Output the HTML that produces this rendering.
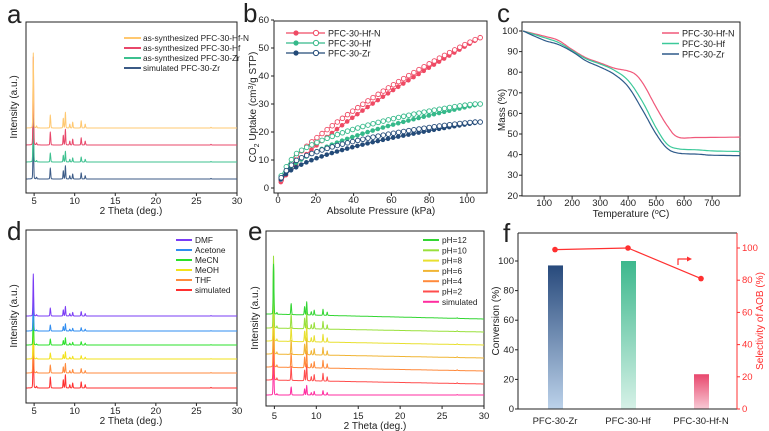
<!DOCTYPE html>
<html><head><meta charset="utf-8"><style>
html,body{margin:0;padding:0;background:#fff;}
svg{display:block;font-family:"Liberation Sans",Arial,sans-serif;}
</style></head><body>
<svg id="s" width="769" height="431" viewBox="0 0 769 431" xmlns="http://www.w3.org/2000/svg">
<defs>
<linearGradient id="gz" x1="0" y1="0" x2="0" y2="1"><stop offset="0" stop-color="#284a7c"/><stop offset="1" stop-color="#bcd2ea"/></linearGradient>
<linearGradient id="gh" x1="0" y1="0" x2="0" y2="1"><stop offset="0" stop-color="#3db88d"/><stop offset="1" stop-color="#d6f1e7"/></linearGradient>
<linearGradient id="gn" x1="0" y1="0" x2="0" y2="1"><stop offset="0" stop-color="#e8476d"/><stop offset="1" stop-color="#f8cad6"/></linearGradient>
</defs>
</svg>
<script>
var S=document.getElementById('s'),NS='http://www.w3.org/2000/svg';
function el(n,a,t){var e=document.createElementNS(NS,n);for(var k in a)e.setAttribute(k,a[k]);if(t!=null)e.textContent=t;S.appendChild(e);return e;}
function ln(x1,y1,x2,y2,c,w){el('line',{x1:x1,y1:y1,x2:x2,y2:y2,stroke:c||'#222','stroke-width':w||1});}
function tx(x,y,s,o){o=o||{};var a={x:x,y:y,'font-size':o.fs||9,fill:o.c||'#222','text-anchor':o.a||'middle'};if(o.r)a.transform='rotate(-90 '+x+' '+y+')';return el('text',a,s);}
function box(L,T,R,B){el('rect',{x:L,y:T,width:R-L,height:B-T,fill:'none',stroke:'#222','stroke-width':1});}
function pl(pts,c,w){el('polyline',{points:pts.map(function(p){return p[0].toFixed(1)+','+p[1].toFixed(1)}).join(' '),fill:'none',stroke:c,'stroke-width':w||1.2,'stroke-linejoin':'round'});}

// XRD
var PK=[[4.9,1],[5.3,0.03],[7.0,0.2],[8.6,0.15],[8.85,0.24],[9.4,0.06],[9.75,0.09],[10.8,0.11],[11.3,0.06],[26.8,0.01]];
function xrd(L,R,T,B,series){
  box(L,T,R,B);
  var X=function(t){return L+(t-4)*(R-L)/26;};
  [5,10,15,20,25,30].forEach(function(t){ln(X(t),B,X(t),B+3);});
  series.forEach(function(s){
    var pts=[];
    for(var t=4.05;t<=30;t+=0.025){
      var y=0;PK.forEach(function(p){var w=0.05;var h=p[0]==4.9?s.h:p[1]*s.h2;var d=(t-p[0])/w;y+=h*Math.exp(-d*d*0.7)*0.85+h*0.15/(1+d*d);});
      pts.push([X(t),s.b+(s.sl||0)*(t-4)/26-y]);
    }
    pl(pts,s.c,1);
  });
  return X;
}
// panel a
var Xa=xrd(26,237,22,193,[
 {b:179,h:55,h2:55,c:'#3b5a86'},
 {b:162,h:70,h2:45,c:'#3cc08f'},
 {b:145,h:88,h2:65,c:'#e8476a'},
 {b:128,h:75,h2:65,c:'#ffc870'}]);
[5,10,15,20,25,30].forEach(function(t){tx(Xa(t),204,t,{fs:9.5});});
tx(131,214,'2 Theta (deg.)',{fs:10});
tx(17,107,'Intensity (a.u.)',{fs:10,r:1});
tx(7,23,'a',{fs:26,a:'start'});
[['as-synthesized PFC-30-Hf-N','#ffc870'],['as-synthesized PFC-30-Hf','#e8476a'],['as-synthesized PFC-30-Zr','#3cc08f'],['simulated PFC-30-Zr','#3b5a86']].forEach(function(l,i){var y=38+i*10;ln(124,y,141,y,l[1],2);tx(143,y+3,l[0],{fs:8.3,a:'start'});});

// panel d
var Xd=xrd(26,237,230,403,[
 {b:388,h:55,h2:55,c:'#ff2f2f'},
 {b:373,h:50,h2:40,c:'#ff8a3c'},
 {b:359,h:42,h2:30,c:'#f2e21a'},
 {b:345,h:42,h2:30,c:'#2be02b'},
 {b:331,h:42,h2:30,c:'#2f8cf0'},
 {b:316,h:42,h2:40,c:'#7a3cf5'}]);
[5,10,15,20,25,30].forEach(function(t){tx(Xd(t),414,t,{fs:9.5});});
tx(131,424,'2 Theta (deg.)',{fs:10});
tx(17,316,'Intensity (a.u.)',{fs:10,r:1});
tx(7,240,'d',{fs:26,a:'start'});
[['DMF','#7a3cf5'],['Acetone','#2f8cf0'],['MeCN','#2be02b'],['MeOH','#f2e21a'],['THF','#ff8a3c'],['simulated','#ff2f2f']].forEach(function(l,i){var y=240+i*10;ln(176,y,192,y,l[1],2);tx(195,y+3,l[0],{fs:8.3,a:'start'});});

// panel e
var Xe=xrd(266,484,231,406,[
 {b:395,h:45,h2:40,c:'#ff2da0'},
 {b:380,h:75,h2:70,c:'#ff4d4d',sl:4},
 {b:367,h:75,h2:70,c:'#ff8a3c',sl:4},
 {b:354,h:75,h2:70,c:'#f0b535',sl:4},
 {b:341,h:75,h2:70,c:'#e8e030',sl:4},
 {b:328,h:72,h2:70,c:'#99e03c',sl:4},
 {b:314,h:50,h2:55,c:'#33d633',sl:5}]);
[5,10,15,20,25,30].forEach(function(t){tx(Xe(t),419,t,{fs:9.5});});
tx(375,429,'2 Theta (deg.)',{fs:10});
tx(258,318,'Intensity (a.u.)',{fs:10,r:1});
tx(248,240,'e',{fs:26,a:'start'});
[['pH=12','#33d633'],['pH=10','#99e03c'],['pH=8','#e8e030'],['pH=6','#f0b535'],['pH=4','#ff8a3c'],['pH=2','#ff4d4d'],['simulated','#ff2da0']].forEach(function(l,i){var y=240+i*10.3;ln(423,y,439,y,l[1],2);tx(442,y+3,l[0],{fs:8.3,a:'start'});});

// panel b
(function(){
 var L=274,R=487,T=21,B=193;box(L,T,R,B);
 var X=function(p){return 278+p*1.89;},Y=function(v){return 188-v*2.8;};
 [0,20,40,60,80,100].forEach(function(p){ln(X(p),B,X(p),B+3);tx(X(p),203,p,{fs:9.5});});
 [0,10,20,30,40,50,60].forEach(function(v){ln(L-3,Y(v),L,Y(v));tx(L-5,Y(v)+3,v,{fs:9.5,a:'end'});});
 tx(381,214,'Absolute Pressure (kPa)',{fs:10});
 var t=tx(256,107,'',{fs:10,r:1});
 t.innerHTML='CO<tspan font-size="7" dy="3">2</tspan><tspan dy="-3"> Uptake (cm</tspan><tspan font-size="7" dy="-3">3</tspan><tspan dy="3">/g STP)</tspan>';
 tx(243,22,'b',{fs:26,a:'start'});
 var S3=[['#ef4a64',1.54,0.76,3.0],['#35b98a',2.9,0.5,3.5],['#234a78',2.5,0.48,2.6]];
 S3.forEach(function(s){
  var ad=[],de=[];
  for(var p=1.5;p<=107;p+=2.7){ad.push([X(p),Y(s[1]*Math.pow(p,s[2]))]);}
  for(var p=107;p>=1.5;p-=2.7){var v=s[1]*Math.pow(p,s[2])+s[3]*Math.pow(Math.max(0,1-p/107),0.6)*Math.min(1,p/10);de.push([X(p),Y(v)]);}
  pl(ad,s[0],1);pl(de,s[0],1);
  ad.forEach(function(q){el('circle',{cx:q[0],cy:q[1],r:2.3,fill:s[0]});});
  de.forEach(function(q){el('circle',{cx:q[0],cy:q[1],r:2.3,fill:'#fff',stroke:s[0],'stroke-width':0.9});});
 });
 [['PFC-30-Hf-N','#ef4a64'],['PFC-30-Hf','#35b98a'],['PFC-30-Zr','#234a78']].forEach(function(l,i){var y=33+i*10;ln(286,y,325,y,l[1],1.2);el('circle',{cx:296,cy:y,r:2.6,fill:l[1]});el('circle',{cx:316,cy:y,r:2.6,fill:'#fff',stroke:l[1]});tx(328,y+3.5,l[0],{fs:9,a:'start'});});
})();

// panel c
(function(){
 var L=522,R=740,T=22,B=196;box(L,T,R,B);
 var X=function(t){return 522+(t-21)*0.28;},Y=function(m){return 31+(100-m)*2.06;};
 [100,200,300,400,500,600,700].forEach(function(t){ln(X(t),B,X(t),B+3);tx(X(t),206,t,{fs:9.5});});
 [20,30,40,50,60,70,80,90,100].forEach(function(v){ln(L-3,Y(v),L,Y(v));tx(L-4,Y(v)+3,v,{fs:9.5,a:'end'});});
 var t=tx(631,217,'',{fs:10});t.innerHTML='Temperature (<tspan font-size="7" dy="-3">o</tspan><tspan dy="3">C)</tspan>';
 tx(505,110,'Mass (%)',{fs:10,r:1});
 tx(497,22,'c',{fs:26,a:'start'});
 function sm(d){var pts=[];for(var i=0;i<d.length-1;i++){var p0=d[Math.max(0,i-1)],p1=d[i],p2=d[i+1],p3=d[Math.min(d.length-1,i+2)];for(var k=0;k<10;k++){var u=k/10,u2=u*u,u3=u2*u;var f=function(a,b,c,e){return 0.5*((2*b)+(-a+c)*u+(2*a-5*b+4*c-e)*u2+(-a+3*b-3*c+e)*u3);};pts.push([X(f(p0[0],p1[0],p2[0],p3[0])),Y(f(p0[1],p1[1],p2[1],p3[1]))]);}}var l=d[d.length-1];pts.push([X(l[0]),Y(l[1])]);return pts;}
 pl(sm([[25,100],[100,97.5],[150,95.5],[200,91],[250,87],[300,84.5],[350,82],[400,80.6],[430,78.5],[460,73],[500,63],[540,54],[578,48.5],[650,48.3],[800,48.5]]),'#f0587a',1.2);
 pl(sm([[25,100],[100,96.8],[150,94.5],[200,90.5],[250,86.5],[300,84],[350,81],[400,76],[450,66],[500,53],[540,45],[580,42.8],[650,42.3],[700,41.8],[800,41.5]]),'#3cc99a',1.2);
 pl(sm([[25,100],[100,95.5],[150,93.5],[200,90],[250,85.5],[300,82.5],[350,79],[400,73],[450,62],[500,50],[540,43],[580,40.7],[650,40.2],[700,39.7],[800,39.5]]),'#2e5a8a',1.2);
 [['PFC-30-Hf-N','#f0587a'],['PFC-30-Hf','#3cc99a'],['PFC-30-Zr','#2e5a8a']].forEach(function(l,i){var y=33+i*10.5;ln(662,y,679,y,l[1],1.5);tx(682,y+3.5,l[0],{fs:9,a:'start'});});
})();

// panel f
(function(){
 var L=518,R=737,T=233,B=409;
 var Y=function(v){return 409-v*1.48;},Y2=function(v){return 409-v*1.61;};
 el('rect',{x:548,y:Y(97),width:15,height:B-Y(97),fill:'url(#gz)'});
 el('rect',{x:621,y:Y(100),width:15,height:B-Y(100),fill:'url(#gh)'});
 el('rect',{x:694,y:Y(23.5),width:15,height:B-Y(23.5),fill:'url(#gn)'});
 ln(L,T,R,T,'#222');ln(L,T,L,B,'#222');ln(L,B,R,B,'#222');ln(R,T,R,B,'#ff3030');
 [0,20,40,60,80,100].forEach(function(v){ln(L-3,Y(v),L,Y(v));tx(L-4,Y(v)+3,v,{fs:9.5,a:'end'});ln(R,Y2(v),R+3,Y2(v),'#ff3030');tx(R+5,Y2(v)+3,v,{fs:9.5,a:'start',c:'#ff3030'});});
 tx(499,321,'Conversion (%)',{fs:10,r:1});
 tx(763,321,'Selectivity of AOB (%)',{fs:10,r:1,c:'#ff3030'});
 tx(555,424,'PFC-30-Zr',{fs:9.5});tx(628,424,'PFC-30-Hf',{fs:9.5});tx(701,424,'PFC-30-Hf-N',{fs:9.5});
 tx(503,242,'f',{fs:26,a:'start'});
 pl([[555,Y2(99)],[628,Y2(100)],[701,Y2(81)]],'#ff3030',1.2);
 [[555,Y2(99)],[628,Y2(100)],[701,Y2(81)]].forEach(function(q){el('circle',{cx:q[0],cy:q[1],r:2.8,fill:'#ff3030'});});
 pl([[678,265],[678,259],[690,259]],'#ff3030',1.2);
 el('polygon',{points:'692,259 687,256.5 687,261.5',fill:'#ff3030'});
})();
</script>
</body></html>
